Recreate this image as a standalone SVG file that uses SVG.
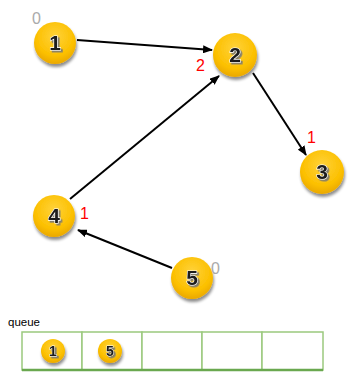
<svg xmlns="http://www.w3.org/2000/svg" width="351" height="373" viewBox="0 0 351 373">
<defs>
<radialGradient id="gold" cx="50%" cy="35%" r="65%">
<stop offset="0" stop-color="#ffd23a"/>
<stop offset="0.7" stop-color="#fcc000"/>
<stop offset="1" stop-color="#eaa800"/>
</radialGradient>
<filter id="sh" x="-30%" y="-30%" width="170%" height="170%">
<feGaussianBlur in="SourceAlpha" stdDeviation="1.8"/>
<feOffset dx="1" dy="3" result="b"/>
<feComponentTransfer><feFuncA type="linear" slope="0.45"/></feComponentTransfer>
<feMerge><feMergeNode/><feMergeNode in="SourceGraphic"/></feMerge>
</filter>
<filter id="tsh" x="-30%" y="-30%" width="170%" height="170%">
<feDropShadow dx="1.8" dy="1.8" stdDeviation="0.4" flood-color="#777" flood-opacity="0.9"/>
</filter>
<marker id="ah" markerWidth="10" markerHeight="8" refX="9" refY="4" orient="auto" markerUnits="userSpaceOnUse">
<path d="M0,0 L10,4 L0,8 z" fill="#000"/>
</marker>
</defs>
<style>
.n{fill:url(#gold);filter:url(#sh)}
.t{font-family:"Liberation Sans",Arial,sans-serif;font-weight:bold;text-anchor:middle;fill:#1a1a1a;stroke:#fff;stroke-width:1.2;paint-order:stroke;filter:url(#tsh)}
.e{stroke:#000;stroke-width:2;fill:none;marker-end:url(#ah)}
.red{font-family:"Liberation Sans",Arial,sans-serif;font-size:16px;fill:#f00}
.gray{font-family:"Liberation Sans",Arial,sans-serif;font-size:16px;fill:#aaa}
.cell{fill:#fff;stroke:#9bc97e;stroke-width:1.5}
</style>
<g id="edges">
<line class="e" x1="77" y1="40" x2="212" y2="50"/>
<line class="e" x1="253" y1="73" x2="306" y2="155"/>
<line class="e" x1="70" y1="199" x2="219" y2="76"/>
<line class="e" x1="172" y1="268" x2="78" y2="230"/>
</g>
<g id="node1"><circle class="n" cx="55" cy="43" r="21"/><text class="t" x="55" y="50" font-size="21">1</text></g>
<g id="node2"><circle class="n" cx="235" cy="55" r="22"/><text class="t" x="235" y="62" font-size="21">2</text></g>
<g id="node3"><circle class="n" cx="322" cy="172" r="22"/><text class="t" x="322" y="179" font-size="21">3</text></g>
<g id="node4"><circle class="n" cx="54" cy="216" r="21"/><text class="t" x="54" y="223" font-size="21">4</text></g>
<g id="node5"><circle class="n" cx="192" cy="278" r="21"/><text class="t" x="192" y="285" font-size="21">5</text></g>
<g id="labels">
<text class="gray" x="32" y="24">0</text>
<text class="red" x="196" y="71">2</text>
<text class="red" x="307" y="143">1</text>
<text class="red" x="80" y="219">1</text>
<text class="gray" x="211" y="274">0</text>
</g>
<g id="queue">
<text x="8" y="326" font-family="Liberation Sans,Arial,sans-serif" font-size="11.5" fill="#000">queue</text>
<rect class="cell" x="22" y="332" width="60" height="38"/>
<rect class="cell" x="82" y="332" width="60" height="38"/>
<rect class="cell" x="142" y="332" width="60" height="38"/>
<rect class="cell" x="202" y="332" width="60" height="38"/>
<rect class="cell" x="262" y="332" width="61" height="38"/>
<line x1="22" y1="370" x2="323" y2="370" stroke="#6aa84f" stroke-width="2.5"/>
<circle class="n" cx="53" cy="351" r="12"/><text class="t" x="53" y="356" font-size="14" style="stroke-width:0.8">1</text>
<circle class="n" cx="110" cy="351" r="12"/><text class="t" x="110" y="356" font-size="14" style="stroke-width:0.8">5</text>
</g>
</svg>
